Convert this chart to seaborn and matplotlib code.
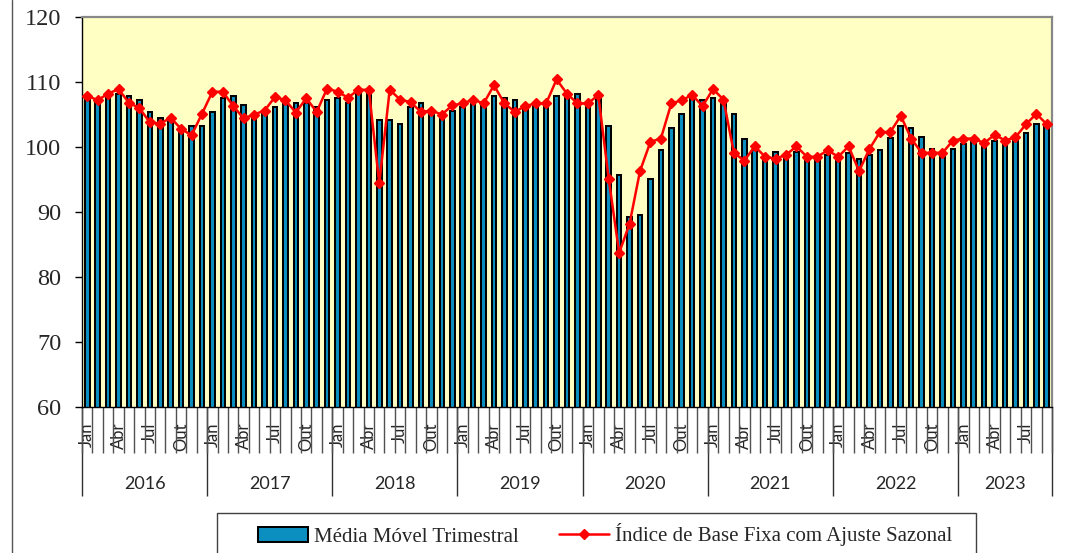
import numpy as np
import pandas as pd
import matplotlib
matplotlib.use("Agg")
import matplotlib.pyplot as plt
import seaborn as sns
from matplotlib.patches import Rectangle
from matplotlib.lines import Line2D

# ---------------- data ----------------
years = [2016, 2017, 2018, 2019, 2020, 2021, 2022, 2023]
months_in_year = [12, 12, 12, 12, 12, 12, 12, 9]
month_names = ["Jan", "Fev", "Mar", "Abr", "Mai", "Jun",
               "Jul", "Ago", "Set", "Out", "Nov", "Dez"]
shown_months = ["Jan", "Abr", "Jul", "Out"]

media_movel = [
    107.4, 106.7, 107.7, 108.2, 107.9, 107.3, 105.4, 104.5, 104.4, 102.6, 103.2, 103.2,  # 2016
    105.4, 107.5, 107.9, 106.4, 104.4, 105.1, 106.1, 106.7, 106.7, 106.7, 106.2, 107.3,  # 2017
    107.6, 106.8, 108.2, 108.2, 104.1, 104.1, 103.5, 106.2, 106.7, 105.6, 105.0, 105.6,  # 2018
    106.2, 106.7, 106.7, 107.9, 107.6, 107.3, 106.2, 106.4, 106.7, 107.9, 107.7, 108.2,  # 2019
    106.9, 107.7, 103.2, 95.7, 89.2, 89.5, 95.1, 99.5, 102.9, 105.1, 107.9, 107.3,       # 2020
    107.6, 106.9, 105.1, 101.3, 99.5, 98.5, 99.2, 98.7, 99.2, 98.5, 98.5, 98.7,          # 2021
    98.0, 99.1, 98.2, 98.8, 99.5, 101.4, 103.2, 102.9, 101.6, 99.7, 98.5, 99.7,          # 2022
    100.5, 100.8, 100.3, 101.0, 100.3, 101.0, 102.1, 103.6, 103.3,                       # 2023
]

indice = [
    107.9, 107.2, 108.2, 108.9, 106.8, 106.0, 103.8, 103.6, 104.5, 102.8, 101.8, 105.1,  # 2016
    108.5, 108.5, 106.3, 104.4, 105.0, 105.6, 107.7, 107.2, 105.3, 107.5, 105.4, 109.0,  # 2017
    108.5, 107.6, 108.8, 108.8, 94.4, 108.8, 107.3, 106.9, 105.4, 105.6, 105.0, 106.4,   # 2018
    106.7, 107.3, 106.7, 109.5, 106.7, 105.4, 106.3, 106.7, 106.7, 110.4, 108.2, 106.7,  # 2019
    106.7, 108.0, 95.1, 83.7, 88.2, 96.3, 100.8, 101.3, 106.7, 107.2, 108.0, 106.3,      # 2020
    108.9, 107.3, 99.1, 97.9, 100.1, 98.5, 98.2, 98.8, 100.1, 98.5, 98.5, 99.5,          # 2021
    98.5, 100.1, 96.3, 99.7, 102.3, 102.3, 104.8, 101.3, 99.1, 99.1, 99.1, 101.0,        # 2022
    101.3, 101.3, 100.6, 101.9, 101.0, 101.5, 103.5, 105.1, 103.5,                       # 2023
]

label_bar = "Média Móvel Trimestral"
label_line = "Índice de Base Fixa com Ajuste Sazonal"
y_ticks = [60, 70, 80, 90, 100, 110, 120]

# ---------------- build table ----------------
month_labels = []
for y, n in zip(years, months_in_year):
    for m in range(n):
        nm = month_names[m]
        month_labels.append(nm if nm in shown_months else "")
n_total = len(media_movel)
df = pd.DataFrame({"pos": np.arange(n_total), "mm": media_movel, "ind": indice})

# year boundaries / centers (category positions)
starts = np.cumsum([0] + months_in_year[:-1])
ends = starts + np.array(months_in_year)
year_bounds = list(starts - 0.5) + [ends[-1] - 0.5]
year_centers = (starts - 0.5 + ends - 0.5) / 2.0

# ---------------- figure ----------------
sns.set_style("white")
fig = plt.figure(figsize=(10.65, 5.53), dpi=100)
fig.patch.set_facecolor("white")
ax = fig.add_axes([82 / 1065, 146 / 553, 970 / 1065, 390 / 553])
ax.set_facecolor("#FFFFC4")

sns.barplot(data=df, x="pos", y="mm", color="#0a8fc0", saturation=1,
            width=0.44, edgecolor="black", linewidth=1.45, errorbar=None,
            ax=ax, label=label_bar, zorder=2)
sns.lineplot(data=df, x="pos", y="ind", color="#ff0000", linewidth=1.8,
             marker="D", markersize=5.5, markeredgecolor="#ff0000",
             markeredgewidth=1, ax=ax, label=label_line, zorder=3)

handles, labels = ax.get_legend_handles_labels()
order = [labels.index(label_bar), labels.index(label_line)]
handles = [handles[i] for i in order]
labels = [labels[i] for i in order]
if ax.get_legend() is not None:
    ax.get_legend().remove()

ax.set_xlim(-0.5, n_total - 0.5)
ax.set_ylim(y_ticks[0], y_ticks[-1])
ax.set_xlabel("")
ax.set_ylabel("")
ax.grid(False)

# y axis
ax.set_yticks(y_ticks)
ax.set_yticklabels([str(v) for v in y_ticks], fontsize=17.5, family="Liberation Serif")
ax.tick_params(axis="y", which="major", length=5, width=1, color="black",
               direction="out", pad=10, left=True)

# x axis: month labels + separators
ax.set_xticks(np.arange(n_total))
ax.set_xticklabels(month_labels, rotation=90, fontsize=12, family="Lato")
ax.tick_params(axis="x", which="major", length=0, pad=11, bottom=True)
ax.set_xticks(np.arange(-0.5, n_total, 1.0), minor=True)
ax.tick_params(axis="x", which="minor", length=33, width=1, color="#505050",
               direction="out", bottom=True)

# year axis
sec = ax.secondary_xaxis("bottom")
sec.set_xticks(year_bounds, labels=[""] * len(year_bounds))
sec.tick_params(axis="x", which="major", length=64, width=1, color="#303030",
                direction="out")
sec.set_xticks(year_centers, labels=[str(y) for y in years], minor=True)
sec.tick_params(axis="x", which="minor", length=0, pad=50, labelsize=13)
for lbl in sec.get_xticklabels(minor=True):
    lbl.set_family("Lato")
sec.spines["bottom"].set_visible(False)

# spines
for s in ["left", "bottom"]:
    ax.spines[s].set_color("black")
    ax.spines[s].set_linewidth(1)
for s in ["top", "right"]:
    ax.spines[s].set_color("#888888")
    ax.spines[s].set_linewidth(1.6)

# legend
fig.legend(handles, labels, ncol=2, loc="center left",
           bbox_to_anchor=(258 / 1065, (553 - 535) / 553),
           frameon=False, borderaxespad=0, borderpad=0,
           prop={"family": "Liberation Serif", "size": 15},
           handlelength=2.4, handletextpad=0.3, columnspacing=1.9)
fig.patches.append(Rectangle((217 / 1065, -0.05), 759 / 1065, (553 - 513) / 553 + 0.05,
                             transform=fig.transFigure, fill=False,
                             edgecolor="#404040", linewidth=1))
fig.add_artist(Line2D([11.5 / 1065, 11.5 / 1065], [0, 1], transform=fig.transFigure,
                      color="#555555", linewidth=1))

fig.savefig("out.png", dpi=100)
